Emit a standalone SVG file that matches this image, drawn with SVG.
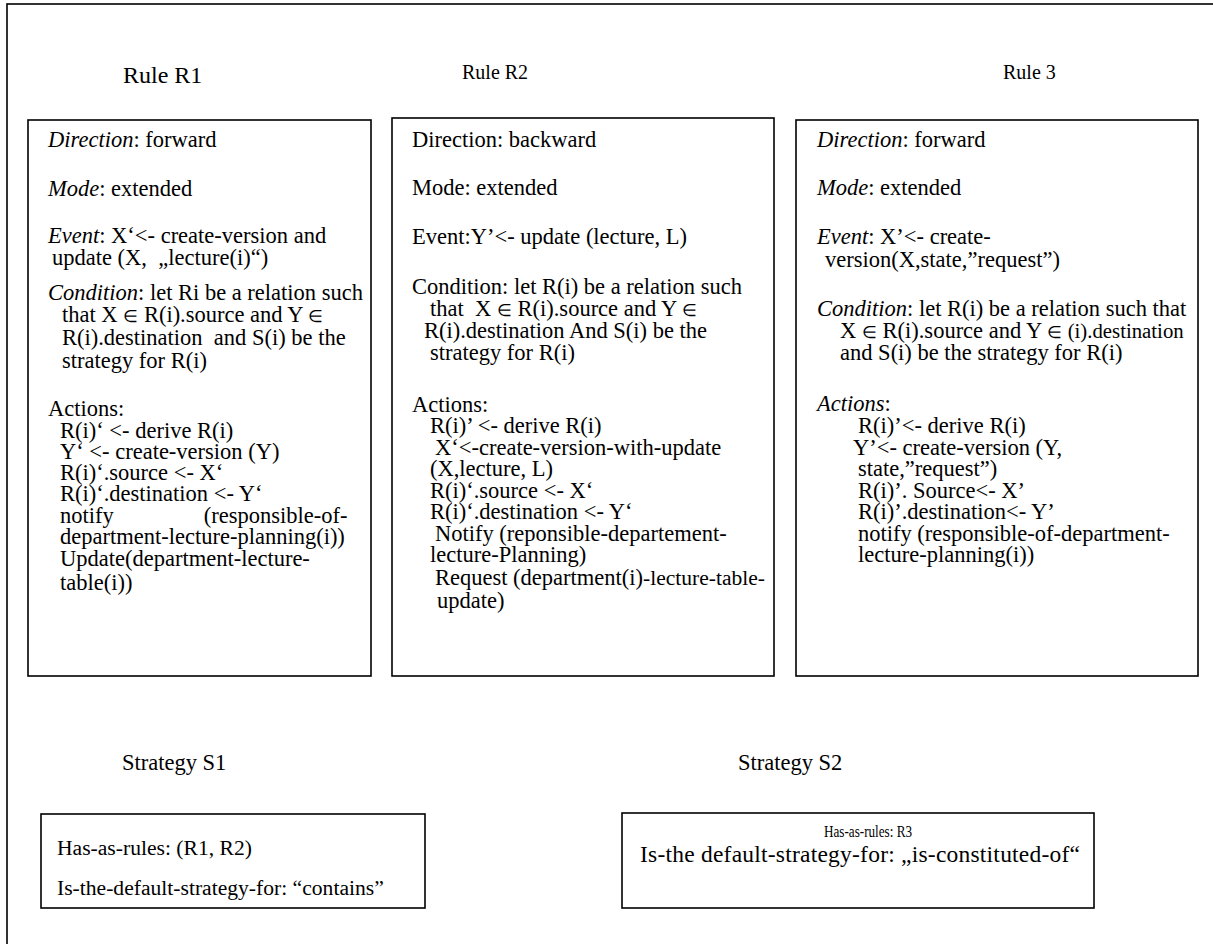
<svg xmlns="http://www.w3.org/2000/svg" width="1213" height="944" viewBox="0 0 1213 944">
<style>
  text { font-family: "Liberation Serif", "Times New Roman", serif; font-size: 22.5px; fill: #000; }
  .box { fill: #fff; stroke: #000; stroke-width: 1.6; }
  .title { font-size: 24px; }
  .title2 { font-size: 20px; }
  .i { font-style: italic; }
  .el { font-size: 17px; }
  .s1 { font-size: 21.6px; }
</style>
<rect x="7" y="4" width="1230" height="960" fill="#fff" stroke="#000" stroke-width="1.6"/>

<g id="rule-r1">
  <text class="title" x="123" y="83">Rule R1</text>
  <rect class="box" x="28" y="120" width="343" height="556"/>
  <text>
    <tspan x="48" y="147"><tspan class="i">Direction</tspan>: forward</tspan>
    <tspan x="48" y="196"><tspan class="i">Mode</tspan>: extended</tspan>
    <tspan x="48" y="243"><tspan class="i">Event</tspan>: X‘&lt;- create-version and</tspan>
    <tspan x="52" y="265">update (X, &#160;„lecture(i)“)</tspan>
    <tspan x="48" y="300"><tspan class="i">Condition</tspan>: let Ri be a relation such</tspan>
    <tspan x="62" y="322">that X <tspan class="el">∈</tspan> R(i).source and Y <tspan class="el">∈</tspan></tspan>
    <tspan x="62" y="345">R(i).destination &#160;and S(i) be the</tspan>
    <tspan x="62" y="368">strategy for R(i)</tspan>
    <tspan x="48" y="416">Actions:</tspan>
    <tspan x="60" y="438">R(i)‘ &lt;- derive R(i)</tspan>
    <tspan x="60" y="459">Y‘ &lt;- create-version (Y)</tspan>
    <tspan x="60" y="480">R(i)‘.source &lt;- X‘</tspan>
    <tspan x="60" y="501">R(i)‘.destination &lt;- Y‘</tspan>
    <tspan x="60" y="523">notify</tspan>
    <tspan x="353" y="523" text-anchor="end">(responsible-of-</tspan>
    <tspan x="60" y="544">department-lecture-planning(i))</tspan>
    <tspan x="60" y="566">Update(department-lecture-</tspan>
    <tspan x="60" y="590">table(i))</tspan>
  </text>
</g>

<g id="rule-r2">
  <text class="title2" x="462" y="79">Rule R2</text>
  <rect class="box" x="392" y="118" width="382" height="558"/>
  <text>
    <tspan x="412" y="147">Direction: backward</tspan>
    <tspan x="412" y="195">Mode: extended</tspan>
    <tspan x="412" y="244">Event:Y’&lt;- update (lecture, L)</tspan>
    <tspan x="412" y="294">Condition: let R(i) be a relation such</tspan>
    <tspan x="430" y="316">that &#160;X <tspan class="el">∈</tspan> R(i).source and Y <tspan class="el">∈</tspan></tspan>
    <tspan x="424" y="338">R(i).destination And S(i) be the</tspan>
    <tspan x="430" y="360">strategy for R(i)</tspan>
    <tspan x="412" y="412">Actions:</tspan>
    <tspan x="430" y="433">R(i)’ &lt;- derive R(i)</tspan>
    <tspan x="435" y="455">X‘&lt;-create-version-with-update</tspan>
    <tspan x="430" y="476">(X,lecture, L)</tspan>
    <tspan x="430" y="498">R(i)‘.source &lt;- X‘</tspan>
    <tspan x="430" y="519">R(i)‘.destination &lt;- Y‘</tspan>
    <tspan x="435" y="541">Notify (reponsible-departement-</tspan>
    <tspan x="430" y="562">lecture-Planning)</tspan>
    <tspan x="435" y="585">Request (department(i)<tspan font-size="20" textLength="122" lengthAdjust="spacingAndGlyphs">-lecture-table-</tspan></tspan>
    <tspan x="437" y="608">update)</tspan>
  </text>
</g>

<g id="rule-r3">
  <text class="title2" x="1003" y="79">Rule 3</text>
  <rect class="box" x="796" y="120" width="402" height="556"/>
  <text>
    <tspan x="817" y="147"><tspan class="i">Direction</tspan>: forward</tspan>
    <tspan x="817" y="195"><tspan class="i">Mode</tspan>: extended</tspan>
    <tspan x="817" y="244"><tspan class="i">Event</tspan>: X’&lt;- create-</tspan>
    <tspan x="825" y="267">version(X,state,”request”)</tspan>
    <tspan x="817" y="316"><tspan class="i">Condition</tspan>: let R(i) be a relation such that</tspan>
    <tspan x="840" y="338">X <tspan class="el">∈</tspan> R(i).source and Y <tspan class="el">∈</tspan> <tspan font-size="20" textLength="116" lengthAdjust="spacingAndGlyphs">(i).destination</tspan></tspan>
    <tspan x="840" y="360">and S(i) be the strategy for R(i)</tspan>
    <tspan x="817" y="411"><tspan class="i">Actions</tspan>:</tspan>
    <tspan x="858" y="433">R(i)’&lt;- derive R(i)</tspan>
    <tspan x="853" y="455">Y’&lt;- create-version (Y,</tspan>
    <tspan x="858" y="476">state,”request”)</tspan>
    <tspan x="858" y="498">R(i)’. Source&lt;- X’</tspan>
    <tspan x="858" y="519">R(i)’.destination&lt;- Y’</tspan>
    <tspan x="858" y="541">notify (responsible-of-department-</tspan>
    <tspan x="858" y="562">lecture-planning(i))</tspan>
  </text>
</g>

<g id="strategy-s1">
  <text x="122" y="770">Strategy S1</text>
  <rect class="box" x="41" y="814" width="384" height="94"/>
  <text class="s1">
    <tspan x="57" y="855">Has-as-rules: (R1, R2)</tspan>
    <tspan x="57" y="895">Is-the-default-strategy-for: “contains”</tspan>
  </text>
</g>

<g id="strategy-s2">
  <text x="738" y="770">Strategy S2</text>
  <rect class="box" x="622" y="813" width="472" height="95"/>
  <text>
    <tspan x="824" y="837" font-size="17" textLength="88" lengthAdjust="spacingAndGlyphs">Has-as-rules: R3</tspan>
    <tspan x="640" y="862" font-size="23.5" textLength="440" lengthAdjust="spacing">Is-the default-strategy-for: „is-constituted-of“</tspan>
  </text>
</g>

<g id="connectors"></g>
</svg>
